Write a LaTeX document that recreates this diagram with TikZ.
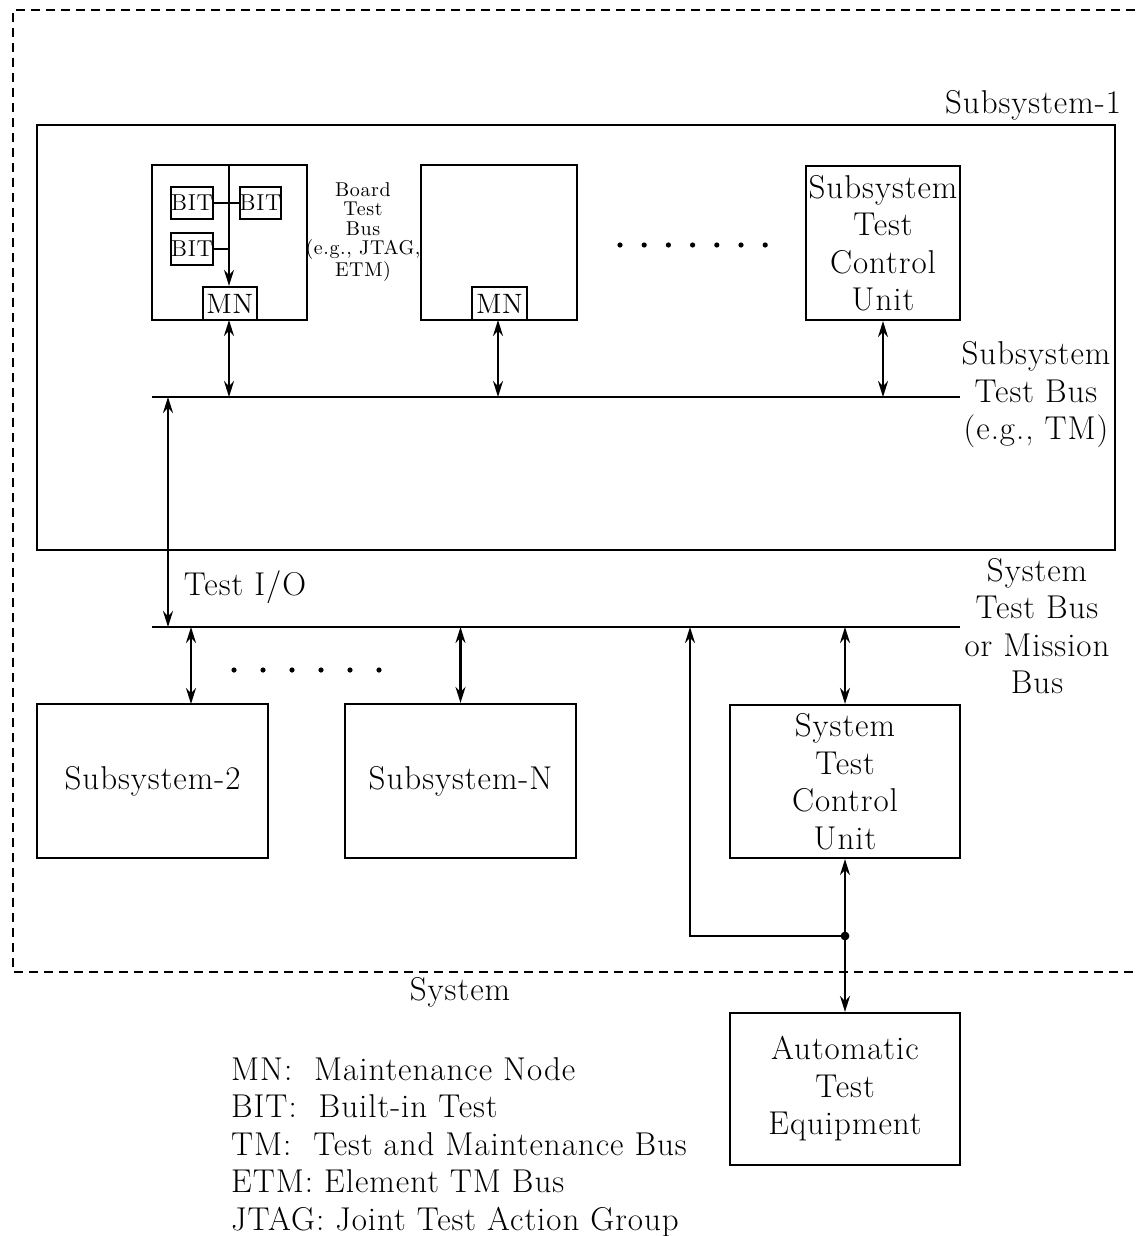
\documentclass[tikz,border=0pt]{standalone}
\usepackage{fontspec}
\setmainfont{Latin Modern Roman}[LetterSpace=3]
\usetikzlibrary{arrows.meta,calc}
\begin{document}
\begin{tikzpicture}[x=0.5pt,y=-0.5pt,
  line width=1.1pt,
  box/.style={draw,rectangle,inner sep=0pt,align=center,font=\fontsize{16.5}{18.75}\selectfont},
  small/.style={draw,rectangle,inner sep=0pt,align=center},
  lbl/.style={inner sep=0pt,align=center,font=\fontsize{16.5}{18.75}\selectfont},
  tip/.style={-{Stealth[length=8pt,width=5pt]}},
  dtip/.style={{Stealth[length=8pt,width=5pt]}-{Stealth[length=8pt,width=5pt]}},
  sysborder/.style={dash pattern=on 4.5pt off 3pt}
]
\useasboundingbox (0,0) rectangle (1135,1236);

% system dashed border
\draw[sysborder] (1135,10) -- (13,10) -- (13,972) -- (1135,972);
\node[lbl] (syslbl) at (460,992) {System};

% subsystem-1
\node[box,minimum width=539pt,minimum height=212.5pt] (sub1) at (576,337.5) {};
\node[lbl,anchor=east] (sub1lbl) at (1122,105) {Subsystem-1};

% boards
\node[box,minimum width=77.5pt,minimum height=77.5pt] (board1) at (229.5,242.5) {};
\node[box,minimum width=78pt,minimum height=77.5pt] (board2) at (499,242.5) {};
\node[small,minimum width=27pt,minimum height=16.5pt,font=\fontsize{14}{15}\selectfont] (mn1) at (230,303.5) {MN};
\node[small,minimum width=27.5pt,minimum height=16.5pt,font=\fontsize{14}{15}\selectfont] (mn2) at (499.5,303.5) {MN};
\node[small,minimum width=20pt,minimum height=16pt,font=\fontsize{11.5}{12}\selectfont] (bit1) at (192,203) {BIT};
\node[small,minimum width=19.5pt,minimum height=16pt,font=\fontsize{11.5}{12}\selectfont] (bit2) at (260.5,203) {BIT};
\node[small,minimum width=20pt,minimum height=16pt,font=\fontsize{11.5}{12}\selectfont] (bit3) at (192,249) {BIT};
\coordinate (vtop) at (229,165);
\draw[tip] (vtop) -- (vtop |- mn1.north);
\draw (bit1.east) -- (bit1.east -| vtop);
\draw (bit2.west) -- (bit2.west -| vtop);
\draw (bit3.east) -- (bit3.east -| vtop);
\node[inner sep=0pt,align=center,font=\fontsize{10}{9.75}\selectfont] (boardlbl) at (363,232) {Board\\Test\\Bus\\(e.g., JTAG,\\ETM)};

% dots in subsystem-1
\foreach \i in {0,...,6} \fill (620+24.2*\i,245) circle (1.3pt);

% subsystem test control unit
\node[box,minimum width=77pt,minimum height=77pt] (sstcu) at (883,243) {Subsystem\\Test\\Control\\Unit};

% subsystem test bus
\coordinate (ssbL) at (152,397);
\coordinate (ssbR) at (960,397);
\draw (ssbL) -- (ssbR);
\node[lbl] (ssblbl) at (1036,395) {Subsystem\\Test Bus\\(e.g., TM)};
\draw[dtip] (229,320) -- (229,397);
\draw[dtip] (498,320) -- (498,397);
\draw[dtip] (sstcu.south) -- (sstcu.south |- ssbL);

% system bus
\coordinate (sbL) at (152,627);
\coordinate (sbR) at (960,627);
\draw (sbL) -- (sbR);
\node[lbl] (sblbl) at (1037,626) {System\\Test Bus\\or Mission\\Bus};

% test I/O
\coordinate (tioT) at (168,397);
\coordinate (tioB) at (168,627);
\draw[dtip] (tioT) -- (tioB);
\node[lbl] (tiolbl) at (245,587) {Test I/O};

% lower subsystems
\node[box,minimum width=115.5pt,minimum height=77pt] (sub2) at (152.5,781) {Subsystem-2};
\node[box,minimum width=115.5pt,minimum height=77pt] (subN) at (460.5,781) {Subsystem-N};
\coordinate (s2top) at (191,704);
\draw[dtip] (s2top |- sbL) -- (s2top);
\draw[dtip] (subN.north |- sbL) -- (subN.north);
\foreach \i in {0,...,5} \fill (234+29*\i,670) circle (1.3pt);

% system test control unit
\node[box,minimum width=115pt,minimum height=76.5pt] (systcu) at (845,781.5) {System\\Test\\Control\\Unit};
\draw[dtip] (systcu.north |- sbL) -- (systcu.north);

% ATE
\node[box,minimum width=115pt,minimum height=76pt] (ate) at (845,1089) {Automatic\\Test\\Equipment};
\coordinate (jn) at (845,936);
\draw[dtip] (systcu.south) -- (ate.north);
\fill (jn) circle (2.2pt);
\coordinate (fb) at (690,627);
\draw[tip] (jn) -| (fb);

% legend
\node[inner sep=0pt,align=left,anchor=north west,font=\fontsize{16.5}{18.75}\selectfont] (legend) at (230,1056)
 {MN:~~Maintenance Node\\BIT:~~Built-in Test\\TM:~~Test and Maintenance Bus\\ETM: Element TM Bus\\JTAG: Joint Test Action Group};
\end{tikzpicture}
\end{document}
